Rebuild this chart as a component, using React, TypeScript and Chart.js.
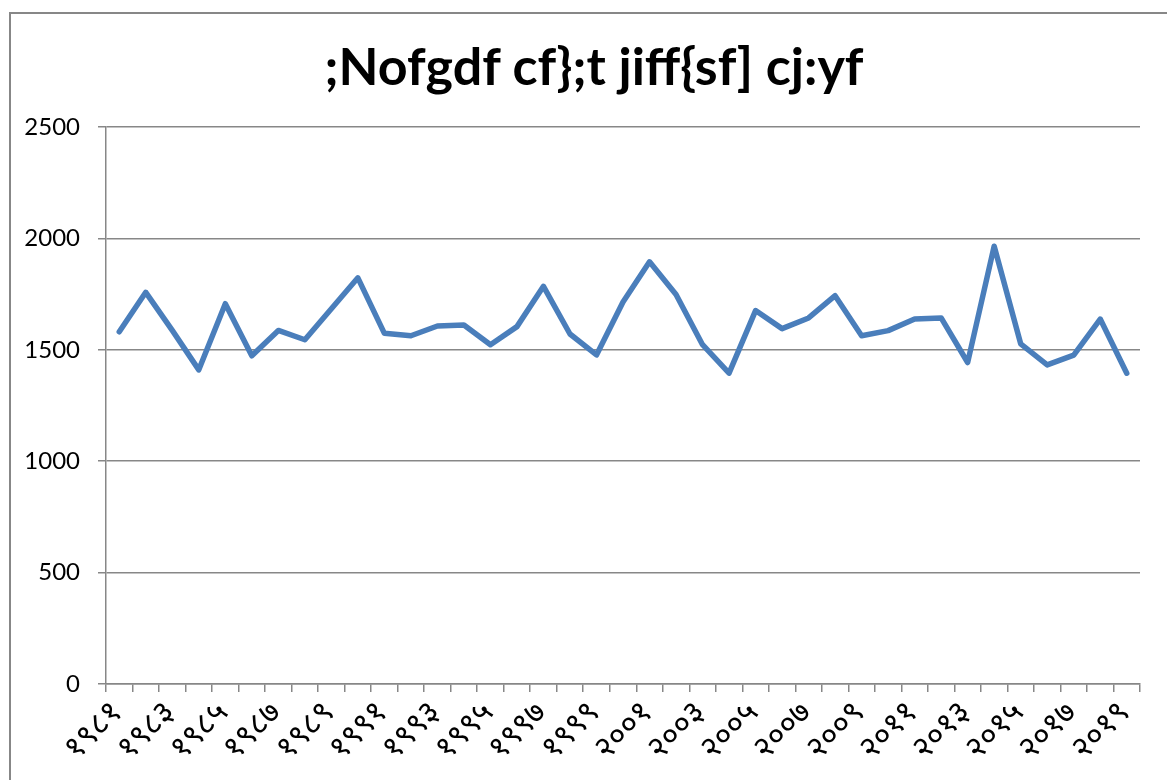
import React, { useEffect, useRef } from "react";
import { Chart, registerables } from "chart.js";

Chart.register(...registerables);

const titleText = ";Nofgdf cf};t jiff{sf] cj:yf";

const years = [
  "१९८१", "१९८२", "१९८३", "१९८४", "१९८५", "१९८६", "१९८७", "१९८८", "१९८९", "१९९०",
  "१९९१", "१९९२", "१९९३", "१९९४", "१९९५", "१९९६", "१९९७", "१९९८", "१९९९", "२०००",
  "२००१", "२००२", "२००३", "२००४", "२००५", "२००६", "२००७", "२००८", "२००९", "२०१०",
  "२०११", "२०१२", "२०१३", "२०१४", "२०१५", "२०१६", "२०१७", "२०१८", "२०१९",
];

const values = [
  1581, 1758, 1587, 1410, 1707, 1473, 1587, 1545, 1684, 1823,
  1574, 1563, 1607, 1611, 1523, 1604, 1785, 1571, 1477, 1715,
  1895, 1748, 1523, 1395, 1676, 1595, 1643, 1743, 1563, 1586,
  1638, 1643, 1443, 1965, 1527, 1432, 1476, 1638, 1395,
];

const yMin = 0;
const yMax = 2500;
const yStep = 500;

export default function App() {
  const canvasRef = useRef<HTMLCanvasElement | null>(null);

  useEffect(() => {
    const canvas = canvasRef.current;
    if (!canvas) return;
    const gridColor = "#878787";
    const chart = new Chart(canvas, {
      type: "line",
      data: {
        labels: years,
        datasets: [
          {
            data: values,
            borderColor: "#4A7EBB",
            backgroundColor: "#4A7EBB",
            borderWidth: 5.5,
            pointRadius: 0,
            pointHoverRadius: 0,
            tension: 0,
            borderJoinStyle: "round",
            borderCapStyle: "round",
          },
        ],
      },
      options: {
        responsive: false,
        animation: false,
        maintainAspectRatio: false,
        layout: { padding: { left: 0, right: 27, top: 127, bottom: 0 } },
        plugins: {
          legend: { display: false },
          tooltip: { enabled: false },
          title: { display: false },
        },
        scales: {
          x: {
            type: "category",
            offset: true,
            grid: {
              offset: true,
              drawOnChartArea: false,
              drawTicks: true,
              tickLength: 8,
              color: gridColor,
              lineWidth: 1.5,
            },
            border: { display: true, color: gridColor, width: 1.5 },
            ticks: {
              autoSkip: false,
              minRotation: 45,
              maxRotation: 45,
              padding: 4,
              color: "#000000",
              font: { family: "'Noto Sans Devanagari', 'Lohit Devanagari', Mangal, sans-serif", size: 32 },
              callback: (_v: any, i: number) => (i % 2 === 0 ? years[i] : ""),
            },
            afterFit: (scale: any) => {
              scale.height = 96;
            },
          },
          y: {
            min: yMin,
            max: yMax,
            grid: {
              color: gridColor,
              lineWidth: 1.5,
              drawTicks: true,
              tickLength: 8,
            },
            border: { display: true, color: gridColor, width: 1.5 },
            ticks: {
              stepSize: yStep,
              padding: 18,
              color: "#000000",
              font: { family: "Lato, 'Open Sans', sans-serif", size: 24 },
              callback: (v: any) => String(v),
            },
            afterFit: (scale: any) => {
              scale.width = 106;
            },
          },
        },
      },
    });
    return () => chart.destroy();
  }, []);

  return (
    <div
      style={{
        position: "fixed",
        left: 0,
        top: 0,
        width: 1167,
        height: 780,
        overflow: "hidden",
        background: "#ffffff",
      }}
    >
      <div
        style={{
          position: "absolute",
          left: 9,
          top: 12,
          width: 1300,
          height: 900,
          border: "2px solid #878787",
          boxSizing: "border-box",
        }}
      />
      <canvas
        ref={canvasRef}
        width={1167}
        height={780}
        style={{ position: "absolute", left: 0, top: 0, width: 1167, height: 780 }}
      />
      <div
        style={{
          position: "absolute",
          left: 0,
          top: 34,
          width: 1188,
          textAlign: "center",
          fontFamily: "Lato, 'Open Sans', sans-serif",
          fontWeight: 700,
          fontSize: 52,
          lineHeight: "62.4px",
          color: "#000000",
          whiteSpace: "pre",
        }}
      >
        {titleText}
      </div>
    </div>
  );
}
